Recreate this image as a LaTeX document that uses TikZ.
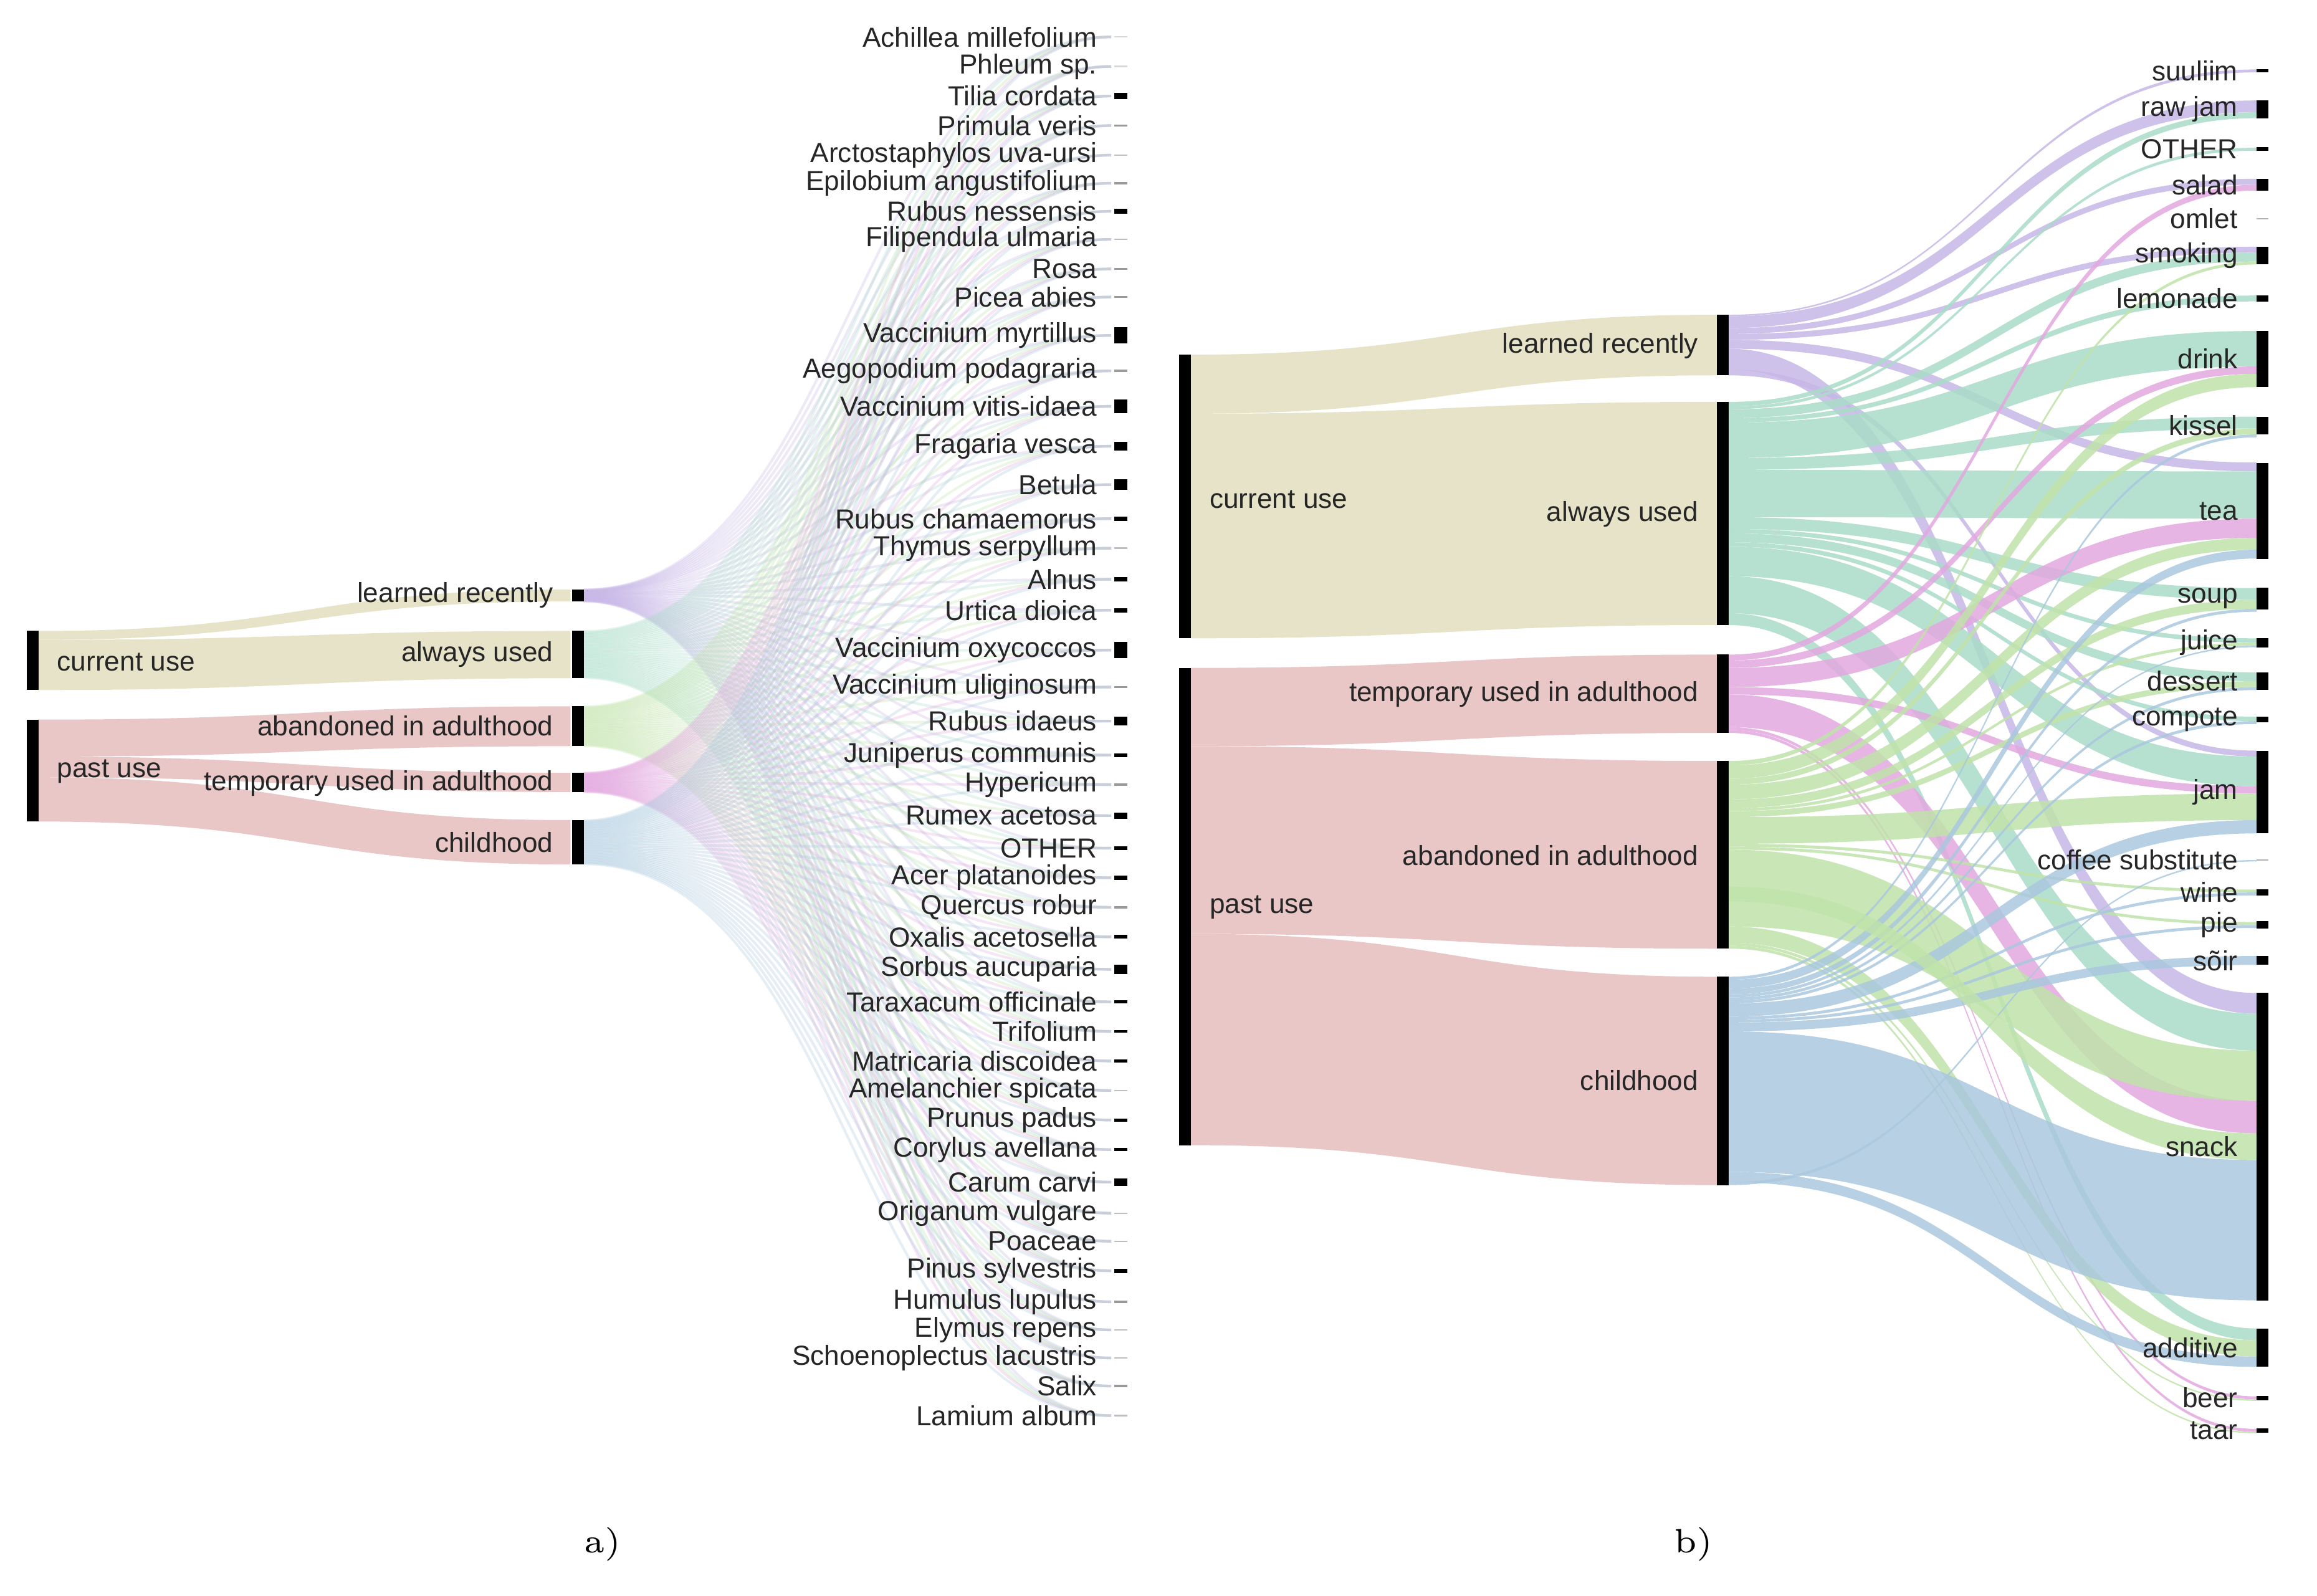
\documentclass[tikz,border=0pt]{standalone}
\usepackage{fontspec}
\setmainfont{Liberation Sans}
\newfontfamily\serifcap{Latin Modern Roman}
\definecolor{cTan}{HTML}{E2DEBE}
\definecolor{cPink}{HTML}{E5BDBD}
\definecolor{cPur}{HTML}{C6B6E6}
\definecolor{cTeal}{HTML}{A9DCC8}
\definecolor{cGrn}{HTML}{C0E2AA}
\definecolor{cMag}{HTML}{E2A8DF}
\definecolor{cBlu}{HTML}{AAC8DE}
\newcommand\flowband[7]{\fill[#1,opacity=.85] (#2,#3) .. controls ({(#2+#5)/2},#3) and ({(#2+#5)/2},#6) .. (#5,#6) -- (#5,#7) .. controls ({(#2+#5)/2},#7) and ({(#2+#5)/2},#4) .. (#2,#4) -- cycle;}
\begin{document}
\begin{tikzpicture}[x=0.01cm,y=-0.01cm,
  lab/.style={font=\fontsize{5.3}{6}\selectfont,inner sep=0pt,text=black!85},
  bar/.style={fill=black}]
\useasboundingbox (0,0) rectangle (1568,1080);
% ================= a) =================
\def\plantys{25,45,65,85,105,124,143,162,182,201,227,251,275,302,328,351,371,392,413,440,465,488,511,531,552,574,594,614,634,656,678,698,718,738,758,778,800,821,840,860,881,900,919,938,958}
\foreach \t/\b/\c in {399/407/cPur,427/459/cTeal,478/505/cGrn,523/536/cMag,555/585/cBlu}{
  \foreach \y [count=\k] in \plantys {
    \pgfmathsetmacro\sy{\t+(\b-\t)*(\k-0.5)/45}
    \draw[\c,line width=0.5pt,opacity=.3] (395,\sy) .. controls (575,\sy) and (575,\y) .. (752,\y);
  }
}
\flowband{cTan}{26}{427}{433}{386}{399}{407}
\flowband{cTan}{26}{433}{467}{386}{427}{459}
\flowband{cPink}{26}{487}{512}{386}{478}{505}
\flowband{cPink}{26}{512}{526}{386}{523}{536}
\flowband{cPink}{26}{526}{556}{386}{555}{585}
\fill[bar] (18,427) rectangle (26,467);
\fill[bar] (18,487) rectangle (26,556);
\node[lab,anchor=west] (acu) at (38,448) {current use};
\node[lab,anchor=west] (apu) at (38,522) {past use};
\fill[bar] (387,399) rectangle (395,407);
\fill[bar] (387,427) rectangle (395,459);
\fill[bar] (387,478) rectangle (395,505);
\fill[bar] (387,523) rectangle (395,536);
\fill[bar] (387,555) rectangle (395,585);
\node[lab,anchor=east] (alr) at (375,403) {learned recently};
\node[lab,anchor=east] (aau) at (375,443) {always used};
\node[lab,anchor=east] (aaa) at (375,491) {abandoned in adulthood};
\node[lab,anchor=east] (atu) at (375,530) {temporary used in adulthood};
\node[lab,anchor=east] (ach) at (375,570) {childhood};
\foreach \n/\y/\h/\c [count=\i] in {
Achillea millefolium/25/1/black!15, Phleum sp./45/1/black!15, Tilia cordata/65/4/black,
Primula veris/85/1.5/black!40, Arctostaphylos uva-ursi/105/1/black!25, Epilobium angustifolium/124/1.5/black!40,
Rubus nessensis/143/3/black, Filipendula ulmaria/162/1/black!25, Rosa/182/1.5/black!40, Picea abies/201/1.5/black!40,
Vaccinium myrtillus/227/11/black, Aegopodium podagraria/251/1.5/black!40, Vaccinium vitis-idaea/275/9/black,
Fragaria vesca/302/6/black, Betula/328/7/black, Rubus chamaemorus/351/3/black, Thymus serpyllum/371/1/black!25,
Alnus/392/3/black, Urtica dioica/413/3/black, Vaccinium oxycoccos/440/11/black, Vaccinium uliginosum/465/1.5/black!40,
Rubus idaeus/488/6/black, Juniperus communis/511/2.5/black, Hypericum/531/1.5/black!40, Rumex acetosa/552/4/black,
OTHER/574/2.5/black, Acer platanoides/594/3/black, Quercus robur/614/1.5/black!40, Oxalis acetosella/634/2.5/black,
Sorbus aucuparia/656/6/black, Taraxacum officinale/678/2/black, Trifolium/698/2/black, Matricaria discoidea/718/2.5/black,
Amelanchier spicata/738/1/black!25, Prunus padus/758/2/black, Corylus avellana/778/2/black, Carum carvi/800/5/black,
Origanum vulgare/821/1/black!25, Poaceae/840/1/black!25, Pinus sylvestris/860/3/black, Humulus lupulus/881/1.5/black!40,
Elymus repens/900/1/black!25, Schoenoplectus lacustris/919/1/black!25, Salix/938/1.5/black!40, Lamium album/958/1/black!25}{
  \fill[\c] (754,\y-\h/2) rectangle (763,\y+\h/2);
  \node[lab,anchor=east] (p\i) at (743,\y) {\n};
}
\node[font=\serifcap\fontsize{6.5}{8}\selectfont] (la) at (408,1045) {a)};
% ================= b) =================
\flowband{cTan}{806}{240}{280}{1162}{213}{254}
\flowband{cTan}{806}{280}{432}{1162}{272}{423}
\flowband{cPink}{806}{452}{505}{1162}{443}{496}
\flowband{cPink}{806}{505}{632}{1162}{515}{642}
\flowband{cPink}{806}{632}{775}{1162}{661}{802}
% learned recently
\flowband{cPur}{1170}{213}{214}{1527}{47}{49}
\flowband{cPur}{1170}{214}{222}{1527}{68}{76}
\flowband{cPur}{1170}{222}{226}{1527}{121}{125}
\flowband{cPur}{1170}{226}{230}{1527}{167}{171}
\flowband{cPur}{1170}{230}{236}{1527}{313}{319}
\flowband{cPur}{1170}{236}{250}{1527}{672}{686}
\flowband{cPur}{1170}{250}{254}{1527}{508}{512}
% always used
\flowband{cTeal}{1170}{272}{275}{1527}{76}{80}
\flowband{cTeal}{1170}{275}{277}{1527}{100}{102}
\flowband{cTeal}{1170}{277}{283}{1527}{171}{177}
\flowband{cTeal}{1170}{283}{286}{1527}{200}{204}
\flowband{cTeal}{1170}{286}{310}{1527}{224}{248}
\flowband{cTeal}{1170}{310}{318}{1527}{282}{290}
\flowband{cTeal}{1170}{318}{350}{1527}{319}{351}
\flowband{cTeal}{1170}{350}{358}{1527}{398}{406}
\flowband{cTeal}{1170}{358}{361}{1527}{432}{435}
\flowband{cTeal}{1170}{361}{367}{1527}{455}{461}
\flowband{cTeal}{1170}{367}{370}{1527}{485}{488}
\flowband{cTeal}{1170}{370}{390}{1527}{512}{532}
\flowband{cTeal}{1170}{390}{415}{1527}{686}{711}
\flowband{cTeal}{1170}{415}{423}{1527}{899}{907}
% temporary
\flowband{cMag}{1170}{443}{447}{1527}{125}{129}
\flowband{cMag}{1170}{447}{452}{1527}{248}{253}
\flowband{cMag}{1170}{452}{465}{1527}{351}{364}
\flowband{cMag}{1170}{465}{470}{1527}{532}{537}
\flowband{cMag}{1170}{470}{492}{1527}{745}{767}
\flowband{cMag}{1170}{492}{494}{1527}{945}{947}
\flowband{cMag}{1170}{494}{496}{1527}{967}{969}
% abandoned
\flowband{cGrn}{1170}{515}{518}{1527}{177}{179}
\flowband{cGrn}{1170}{518}{527}{1527}{253}{262}
\flowband{cGrn}{1170}{527}{531}{1527}{290}{294}
\flowband{cGrn}{1170}{531}{541}{1527}{364}{372}
\flowband{cGrn}{1170}{541}{547}{1527}{406}{412}
\flowband{cGrn}{1170}{547}{549}{1527}{435}{437}
\flowband{cGrn}{1170}{549}{553}{1527}{461}{465}
\flowband{cGrn}{1170}{553}{571}{1527}{537}{555}
\flowband{cGrn}{1170}{571}{573}{1527}{602}{604}
\flowband{cGrn}{1170}{573}{575}{1527}{624}{626}
\flowband{cGrn}{1170}{575}{627}{1527}{711}{745}
\flowband{cGrn}{1170}{627}{638}{1527}{907}{918}
\flowband{cGrn}{1170}{638}{640}{1527}{947}{948}
\flowband{cGrn}{1170}{640}{642}{1527}{969}{970}
% childhood
\flowband{cBlu}{1170}{661}{663}{1527}{294}{296}
\flowband{cBlu}{1170}{663}{669}{1527}{372}{378}
\flowband{cBlu}{1170}{669}{673}{1527}{412}{414}
\flowband{cBlu}{1170}{673}{675}{1527}{437}{438}
\flowband{cBlu}{1170}{675}{677}{1527}{465}{467}
\flowband{cBlu}{1170}{677}{679}{1527}{488}{490}
\flowband{cBlu}{1170}{679}{688}{1527}{555}{564}
\flowband{cBlu}{1170}{688}{690}{1527}{604}{606}
\flowband{cBlu}{1170}{690}{692}{1527}{626}{628}
\flowband{cBlu}{1170}{692}{698}{1527}{647}{653}
\flowband{cBlu}{1170}{698}{793}{1527}{785}{880}
\flowband{cBlu}{1170}{793}{800}{1527}{918}{925}
\flowband{cBlu}{1170}{800}{802}{1527}{582}{583}
\flowband{cGrn}{1170}{600}{610}{1527}{767}{785}
% bars b
\fill[bar] (798,240) rectangle (806,432);
\fill[bar] (798,452) rectangle (806,775);
\node[lab,anchor=west] (bcu) at (818,338) {current use};
\node[lab,anchor=west] (bpu) at (818,614) {past use};
\fill[bar] (1162,213) rectangle (1170,254);
\fill[bar] (1162,272) rectangle (1170,423);
\fill[bar] (1162,443) rectangle (1170,496);
\fill[bar] (1162,515) rectangle (1170,642);
\fill[bar] (1162,661) rectangle (1170,802);
\node[lab,anchor=east] (blr) at (1150,234) {learned recently};
\node[lab,anchor=east] (bau) at (1150,348) {always used};
\node[lab,anchor=east] (btu) at (1150,470) {temporary used in adulthood};
\node[lab,anchor=east] (baa) at (1150,579) {abandoned in adulthood};
\node[lab,anchor=east] (bch) at (1150,731) {childhood};
\foreach \n/\y/\h/\c [count=\i] in {
suuliim/48/2/black, raw jam/74/12/black, OTHER/101/2.5/black, salad/125/8/black, omlet/148/1/black!30,
smoking/173/12/black, lemonade/202/4/black, drink/243/38/black, kissel/288/12/black, tea/346/65/black,
soup/405/15/black, juice/435/6/black, dessert/461/12/black, compote/487/4/black, jam/536/56/black,
coffee substitute/582/1/black!30, wine/604/4/black, pie/626/5/black, sõir/650/6/black, snack/776/208/black,
additive/912/26/black, beer/946/3/black, taar/968/3/black}{
  \fill[\c] (1527,\y-\h/2) rectangle (1535,\y+\h/2);
  \node[lab,anchor=east] (u\i) at (1515,\y) {\n};
}
\node[font=\serifcap\fontsize{6.5}{8}\selectfont] (lb) at (1146,1045) {b)};
\end{tikzpicture}
\end{document}
